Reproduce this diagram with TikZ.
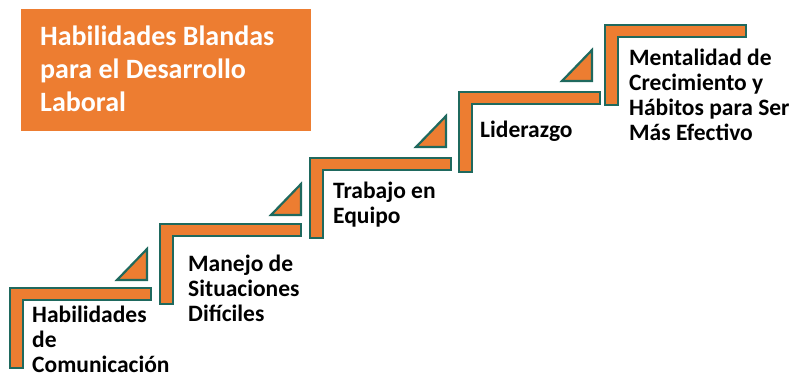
\documentclass[tikz,border=0pt]{standalone}
\usepackage{fontspec}
\setmainfont{Carlito}
\usepackage{tikz}
\definecolor{stepfill}{RGB}{237,125,49}
\definecolor{stepline}{RGB}{31,105,94}

\begin{document}
\begin{tikzpicture}[x=1pt,y=-1pt,
    stepbar/.style={fill=stepfill,draw=stepline,line width=2.2pt,line join=miter},
    steptext/.style={anchor=base west,inner sep=0pt,text width=190pt,align=flush left,
        font=\fontsize{23.5}{25}\selectfont\bfseries}]
\useasboundingbox (0,0) rectangle (794,375);

% title
\fill[stepfill] (21,9) rectangle (311,131);
\node[anchor=base west,inner sep=0pt,text width=270pt,align=flush left,text=white,
    font=\fontsize{28}{33}\selectfont\bfseries] (title) at (40,45)
    {Habilidades Blandas\\para el Desarrollo\\Laboral};

% steps
\draw[stepbar] (10,288) -- ++(141,0) -- ++(0,12) -- ++(-128,0) -- ++(0,68) -- ++(-13,0) -- cycle;
\draw[stepbar] (160,224) -- ++(141,0) -- ++(0,12) -- ++(-128,0) -- ++(0,68) -- ++(-13,0) -- cycle;
\draw[stepbar] (310,158) -- ++(141,0) -- ++(0,12) -- ++(-128,0) -- ++(0,68) -- ++(-13,0) -- cycle;
\draw[stepbar] (459,92) -- ++(141,0) -- ++(0,12) -- ++(-128,0) -- ++(0,68) -- ++(-13,0) -- cycle;
\draw[stepbar] (605,25) -- ++(141,0) -- ++(0,12) -- ++(-128,0) -- ++(0,68) -- ++(-13,0) -- cycle;

% small triangles
\draw[stepbar] (147,280) -- ++(0,-31) -- ++(-30,31) -- cycle;
\draw[stepbar] (301,215) -- ++(0,-31) -- ++(-30,31) -- cycle;
\draw[stepbar] (446,147) -- ++(0,-31) -- ++(-30,31) -- cycle;
\draw[stepbar] (592,81) -- ++(0,-31) -- ++(-30,31) -- cycle;

% labels
\node[steptext] (s1) at (32,322) {Habilidades\\de\\Comunicación};
\node[steptext] (s2) at (188,271) {Manejo de\\Situaciones\\Difíciles};
\node[steptext] (s3) at (333,198) {Trabajo en\\Equipo};
\node[steptext] (s4) at (480,137) {Liderazgo};
\node[steptext] (s5) at (629,65) {Mentalidad de\\Crecimiento y\\Hábitos para Ser\\Más Efectivo};

\end{tikzpicture}
\end{document}
